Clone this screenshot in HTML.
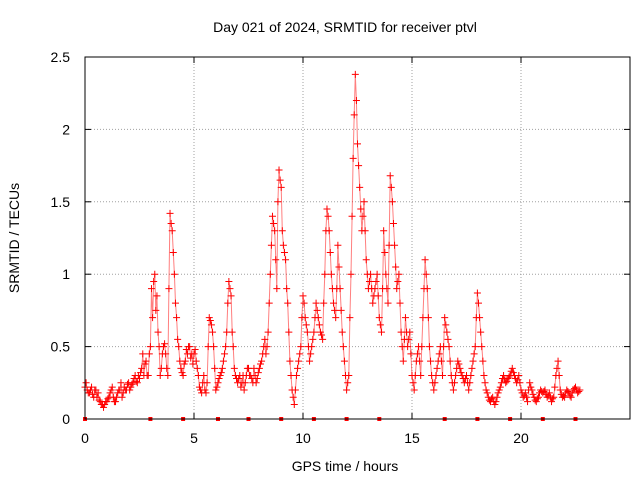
<!DOCTYPE html>
<html><head><meta charset="utf-8"><style>
body{margin:0;background:#fff;}
svg{display:block;font-family:"Liberation Sans",sans-serif;}
</style></head><body>
<svg id="c" width="640" height="480" viewBox="0 0 640 480">
<text x="345" y="32" font-size="14" text-anchor="middle">Day 021 of 2024, SRMTID for receiver ptvl</text>
<text x="345" y="471" font-size="14" text-anchor="middle">GPS time / hours</text>
<text transform="translate(19,238) rotate(-90)" font-size="14" text-anchor="middle">SRMTID / TECUs</text>
<g id="grid"></g><g id="marks"></g>
<rect x="85" y="57" width="545" height="362" fill="none" stroke="#000" stroke-width="1"/>
</svg>
<script>
const xTicks=[0,5,10,15,20];
const yTicks=[0,0.5,1,1.5,2,2.5];
const yTickLabels=["0","0.5","1","1.5","2","2.5"];
const tStart=0, tStep=0.1, tStart2=0.05;
const values=[0.22,0.2,0.18,0.22,0.15,0.2,0.18,0.12,0.1,0.1,
0.12,0.15,0.2,0.15,0.12,0.18,0.2,0.15,0.22,0.2,
0.25,0.22,0.25,0.3,0.25,0.28,0.35,0.3,0.4,0.3,
0.5,0.7,1.0,0.85,0.5,0.35,0.5,0.45,0.3,1.42,
1.3,1.0,0.7,0.5,0.35,0.3,0.4,0.45,0.5,0.45,
0.45,0.4,0.3,0.2,0.25,0.2,0.25,0.7,0.65,0.5,
0.2,0.25,0.3,0.35,0.45,0.6,0.95,0.85,0.5,0.3,
0.25,0.3,0.25,0.2,0.3,0.35,0.3,0.25,0.3,0.28,
0.35,0.4,0.5,0.45,0.6,1.0,1.4,1.3,0.9,1.72,
1.6,1.2,1.1,0.8,0.4,0.2,0.1,0.3,0.4,0.5,
0.85,0.7,0.6,0.4,0.5,0.6,0.8,0.7,0.6,0.55,
1.0,1.45,1.3,1.0,0.8,0.7,1.2,0.9,0.6,0.4,
0.2,0.3,1.0,1.8,2.38,1.9,1.6,1.3,1.5,1.1,
0.9,1.0,0.8,0.9,1.0,0.7,0.6,1.3,1.0,0.8,
1.68,1.5,1.2,0.9,1.0,0.6,0.4,0.7,0.5,0.6,
0.3,0.2,0.4,0.5,0.3,0.7,1.1,0.9,0.5,0.3,
0.2,0.3,0.4,0.5,0.3,0.7,0.6,0.5,0.3,0.2,
0.3,0.4,0.35,0.3,0.25,0.3,0.2,0.3,0.4,0.5,
0.87,0.7,0.5,0.3,0.2,0.15,0.12,0.15,0.1,0.15,
0.2,0.25,0.3,0.25,0.28,0.3,0.35,0.3,0.25,0.3,
0.2,0.15,0.18,0.12,0.25,0.2,0.15,0.12,0.15,0.2,
0.18,0.2,0.15,0.18,0.12,0.15,0.3,0.4,0.2,0.15,
0.15,0.2,0.18,0.15,0.2,0.22,0.18,0.2];
const values2=[0.25,0.18,0.2,0.17,0.2,0.15,0.13,0.1,0.08,0.12,
0.14,0.18,0.22,0.12,0.15,0.2,0.25,0.18,0.2,0.24,
0.2,0.24,0.28,0.26,0.3,0.32,0.45,0.38,0.3,0.45,
0.9,0.95,0.75,0.6,0.3,0.45,0.52,0.35,0.9,1.35,
1.15,0.8,0.55,0.4,0.32,0.38,0.48,0.5,0.42,0.38,
0.48,0.35,0.22,0.18,0.3,0.18,0.5,0.68,0.6,0.35,
0.22,0.28,0.32,0.4,0.5,0.8,0.9,0.6,0.35,0.28,
0.28,0.22,0.3,0.25,0.35,0.3,0.28,0.35,0.25,0.32,
0.38,0.45,0.55,0.5,0.8,1.2,1.35,1.1,1.5,1.65,
1.3,1.15,0.9,0.6,0.3,0.15,0.2,0.35,0.45,0.7,
0.8,0.65,0.5,0.45,0.55,0.7,0.75,0.65,0.58,0.8,
1.3,1.4,1.15,0.9,0.75,0.9,1.05,0.75,0.5,0.3,
0.25,0.7,1.4,2.1,2.2,1.75,1.45,1.4,1.3,1.0,
0.95,0.9,0.85,0.95,0.85,0.65,0.9,1.15,0.9,1.2,
1.6,1.35,1.05,0.95,0.8,0.5,0.55,0.6,0.55,0.45,
0.25,0.3,0.45,0.4,0.5,0.9,1.0,0.7,0.4,0.25,
0.25,0.35,0.45,0.4,0.5,0.65,0.55,0.4,0.25,0.25,
0.35,0.38,0.32,0.28,0.28,0.25,0.25,0.35,0.45,0.7,
0.8,0.6,0.4,0.25,0.18,0.13,0.14,0.12,0.12,0.18,
0.22,0.28,0.27,0.26,0.29,0.33,0.32,0.28,0.27,0.25,
0.18,0.16,0.15,0.2,0.22,0.17,0.13,0.14,0.18,0.19,
0.19,0.17,0.16,0.15,0.14,0.22,0.35,0.3,0.17,0.16,
0.18,0.19,0.16,0.18,0.21,0.2,0.19];
const axisMarks=[0,3,4.5,6.1,7.5,9,10.5,12,13.5,16.5,18,19.5,21,22.5];
const NS="http://www.w3.org/2000/svg";
const X0=85,X1=630,Y0=419,Y1=57,XMAX=25,YMAX=2.5;
const xs=v=>X0+(X1-X0)*v/XMAX, ys=v=>Y0-(Y0-Y1)*v/YMAX;
const grid=document.getElementById('grid'), marks=document.getElementById('marks');
function mk(tag,at,parent){const e=document.createElementNS(NS,tag);for(const k in at)e.setAttribute(k,at[k]);parent.appendChild(e);return e;}
xTicks.forEach(t=>{const x=xs(t);
 if(t>0){const g=mk('line',{x1:x,y1:Y0,x2:x,y2:Y1,stroke:'#a0a0a0','stroke-dasharray':'1,2'},grid);
 
 }
 const tk=mk('text',{x:x,y:443,'font-size':14,'text-anchor':'middle'},grid);tk.textContent=t;
 
 
 mk('line',{x1:x,y1:Y0,x2:x,y2:Y0-6,stroke:'#000'},grid);mk('line',{x1:x,y1:Y1,x2:x,y2:Y1+6,stroke:'#000'},grid);
});
yTicks.forEach((v,i)=>{const y=ys(v);
 if(v>0&&v<YMAX){const g=mk('line',{x1:X0,y1:y,x2:X1,y2:y,stroke:'#a0a0a0','stroke-dasharray':'1,2'},grid);
 
 }
 const tk=mk('text',{x:70,y:y+5,'font-size':14,'text-anchor':'end'},grid);tk.textContent=yTickLabels[i];
 
 
 mk('line',{x1:X0,y1:y,x2:X0+6,y2:y,stroke:'#000'},grid);mk('line',{x1:X1,y1:y,x2:X1-6,y2:y,stroke:'#000'},grid);
});
const pts=[];
values.forEach((v,i)=>pts.push([tStart+i*tStep,v]));
values2.forEach((v,i)=>pts.push([tStart2+i*tStep,v]));
pts.sort((a,b)=>a[0]-b[0]);
let d='';
pts.forEach((p,i)=>{d+=(i?'L':'M')+xs(p[0]).toFixed(1)+','+ys(p[1]).toFixed(1);});
const ln=mk('path',{d:d,fill:'none',stroke:'#f00','stroke-width':1,'stroke-opacity':0.5},marks);


pts.forEach(pt=>{const x=xs(pt[0]),y=ys(pt[1]);
 const p=mk('path',{d:`M${x-3.5},${y}h7M${x},${y-3.5}v7`,stroke:'#f00','stroke-width':1},marks);
 
 
});
axisMarks.forEach(t=>{const r=mk('rect',{x:xs(t)-2,y:Y0-2,width:4,height:4,fill:'#f00'},marks);
 
 
});
</script>
</body></html>
